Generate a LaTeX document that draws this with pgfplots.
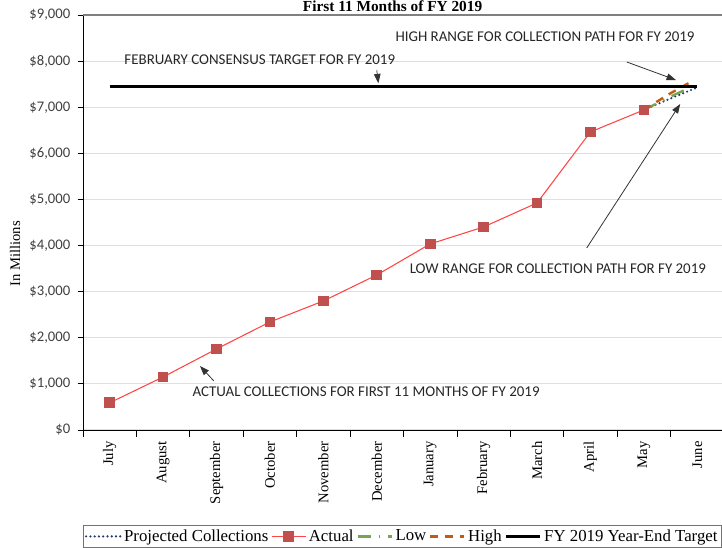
\documentclass[border=0pt]{standalone}
\usepackage{fontspec}
\setmainfont{Liberation Serif}
\newfontfamily\calibri{Carlito}
\usepackage{pgfplots}
\pgfplotsset{compat=1.18}
\usetikzlibrary{arrows.meta}
\definecolor{gridblue}{RGB}{214,225,240}
\definecolor{projblue}{RGB}{31,56,100}
\definecolor{lowgreen}{RGB}{118,165,84}
\definecolor{highorange}{RGB}{197,90,17}
\definecolor{actline}{RGB}{255,70,70}
\definecolor{actmark}{RGB}{192,80,77}
\begin{document}
\begin{tikzpicture}[x=1pt,y=1pt]
\clip (-62.25,-88.5) rectangle (479.25,322.5);
\begin{axis}[
  at={(0,0)}, anchor=south west,
  scale only axis, width=480.75pt, height=311.25pt,
  xmin=-0.5, xmax=11.5, ymin=0, ymax=9000,
  axis x line*=bottom, axis y line*=left,
  axis line style={black, line width=0.7pt},
  tick align=outside,
  xtick={0,...,11},
  xticklabels={July,August,September,October,November,December,January,February,March,April,May,June},
  major x tick style={draw=none},
  minor xtick={-0.5,0.5,...,11.5},
  minor tick length=5pt,
  minor x tick style={black, line width=0.6pt},
  x tick label style={rotate=90, anchor=east, font=\fontsize{11}{13}\selectfont, xshift=-1pt},
  ytick={0,1000,...,9000},
  major tick length=4pt,
  major y tick style={black, line width=0.6pt},
  yticklabel={\$\pgfmathprintnumber{\tick}},
  /pgf/number format/.cd, fixed, 1000 sep={,}, assume math mode=true,
  /pgfplots/.cd,
  yticklabel style={font=\calibri\fontsize{11}{13}\selectfont, text=black!75, xshift=-2pt},
  ymajorgrids, major grid style={gridblue, line width=0.8pt},
  legend columns=-1,
  legend style={at={(axis description cs:0,-0.2289)}, anchor=north west,
    draw=black!55, line width=0.9pt, font=\fontsize{12.6}{14}\selectfont,
    inner xsep=1pt, inner ysep=1pt, /tikz/every even column/.append style={column sep=0pt}},
  legend image code/.code={\draw[mark repeat=2,mark phase=2,#1] plot coordinates {(0cm,0cm) (0.45cm,0cm) (0.9cm,0cm)};},
  clip=false,
]
\draw[black!50, line width=0.8pt] (axis cs:-0.5,9000) -- (axis cs:11.5,9000);
\addplot[projblue, line width=1.8pt, line cap=round, dash pattern=on 0pt off 3.2pt] coordinates {(10,6941) (10.5,7190) (11,7430)};
\addlegendentry{Projected Collections}
\addplot[actline, line width=0.8pt, mark=square*, mark size=3.6pt, mark options={fill=actmark, draw=actmark, solid}] coordinates {
(0,590) (1,1150) (2,1757) (3,2343) (4,2798) (5,3362) (6,4035) (7,4403) (8,4924) (9,6464) (10,6941)};
\addlegendentry{Actual}
\addplot[lowgreen, line width=1.8pt, dash pattern=on 10pt off 6pt on 1.2pt off 6pt] coordinates {(10,6941) (10.5,7230) (11,7500)};
\addlegendentry{Low}
\addplot[highorange, line width=1.8pt, dash pattern=on 6pt off 5pt] coordinates {(10,6941) (10.45,7270) (10.85,7530)};
\addlegendentry{High}
\addplot[black, line width=2.2pt] coordinates {(0,7440) (11,7440)};
\addlegendentry{FY 2019 Year-End Target}
\begin{scope}[font=\calibri\fontsize{11.2}{13}\selectfont, text=black!85]
\node at (axis cs:8.15,8523) {HIGH RANGE FOR COLLECTION PATH FOR FY 2019};
\node at (axis cs:2.81,8024) {FEBRUARY CONSENSUS TARGET FOR FY 2019};
\node at (axis cs:8.39,3492) {LOW RANGE FOR COLLECTION PATH FOR FY 2019};
\node at (axis cs:4.80,824) {ACTUAL COLLECTIONS FOR FIRST 11 MONTHS OF FY 2019};
\end{scope}
\begin{scope}[draw=black!80, line width=0.6pt, -{Triangle[length=7pt,width=5pt]}]
\draw (axis cs:9.68,7981) -- (axis cs:10.60,7590);
\draw (axis cs:5.0,7800) -- (axis cs:5.03,7520);
\draw (axis cs:8.93,3947) -- (axis cs:10.68,7070);
\draw (axis cs:1.95,1063) -- (axis cs:1.69,1388);
\end{scope}
\node[font=\bfseries\fontsize{11.5}{13}\selectfont, anchor=base] at ([yshift=2.5pt]axis description cs:0.483,1) {First 11 Months of FY 2019};
\node[font=\fontsize{11}{13}\selectfont, rotate=90] at ([xshift=-51pt]axis description cs:0,0.424) {In Millions};
\end{axis}
\end{tikzpicture}
\end{document}
